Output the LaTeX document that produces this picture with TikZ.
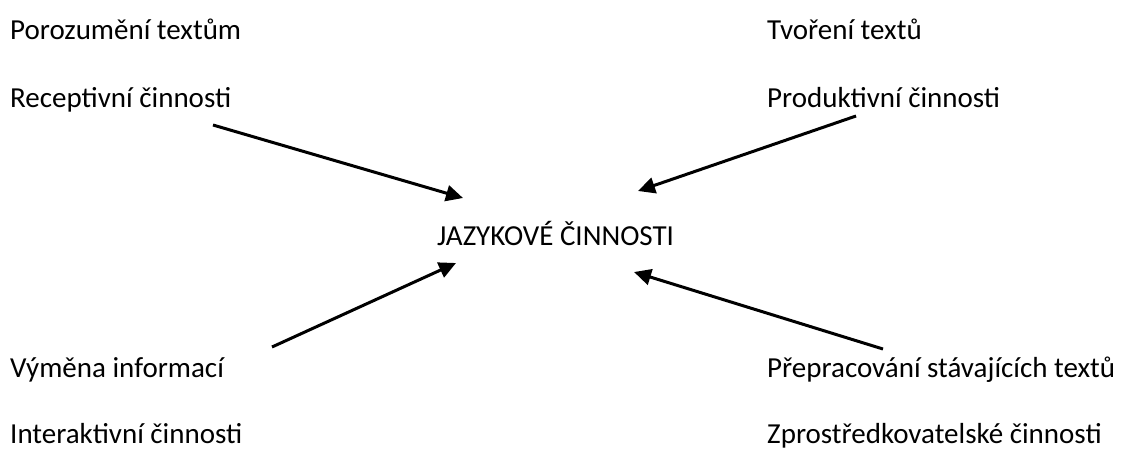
\documentclass[tikz,border=0pt]{standalone}
\usepackage{fontspec}
\setmainfont{Carlito}
\usetikzlibrary{arrows.meta}
\begin{document}
\begin{tikzpicture}[x=1pt,y=-1pt,
  lbl/.style={anchor=base west,inner sep=0pt,font=\fontsize{29}{35}\selectfont},
  arr/.style={line width=3pt,-{Triangle[length=17pt,width=16pt]}}]
\useasboundingbox[fill=white] (0,0) rectangle (1123,448);
\node[lbl] (t1) at (10,39) {Porozumění textům};
\node[lbl] (t2) at (10,107) {Receptivní činnosti};
\node[lbl] (t3) at (767,39) {Tvoření textů};
\node[lbl] (t4) at (767,107) {Produktivní činnosti};
\node[lbl] (c) at (437,245) {JAZYKOVÉ ČINNOSTI};
\node[lbl] (b1) at (10,377) {Výměna informací};
\node[lbl] (b2) at (10,443) {Interaktivní činnosti};
\node[lbl] (b3) at (767,377) {Přepracování stávajících textů};
\node[lbl] (b4) at (767,443) {Zprostředkovatelské činnosti};
\coordinate (s1) at (213,125);
\coordinate (e1) at (463,198);
\coordinate (s2) at (856,116);
\coordinate (e2) at (638,191);
\coordinate (s3) at (272,347);
\coordinate (e3) at (456,263);
\coordinate (s4) at (883,349);
\coordinate (e4) at (634,272);
\draw[arr] (s1) -- (e1);
\draw[arr] (s2) -- (e2);
\draw[arr] (s3) -- (e3);
\draw[arr] (s4) -- (e4);
\end{tikzpicture}
\end{document}
